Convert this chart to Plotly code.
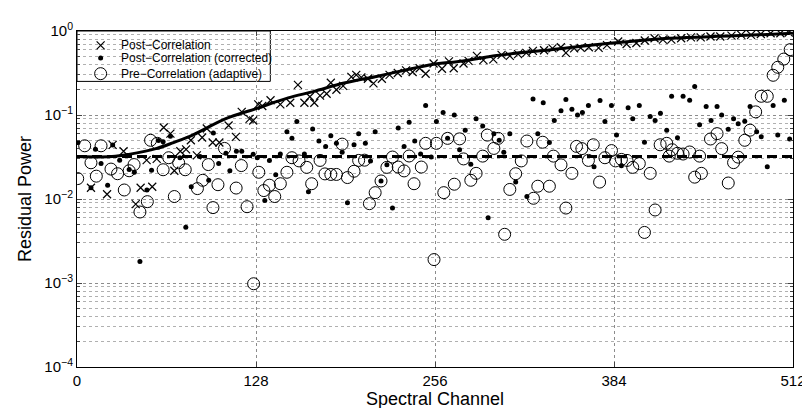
import plotly.graph_objects as go

# Post-Correlation (x markers)
post_ch = [10, 21.5, 25.5, 33.3, 42, 45.5, 49.8, 53.8, 57, 62, 66.8, 69.6, 73.9, 78, 81.4, 85.7,
           89.5, 92.8, 97, 101.8, 108.4, 113.6, 117.8, 123.4, 126, 129.6, 132.5, 138.4, 145.4,
           152.5, 158, 162.6, 166.5, 169.7, 173.8, 178.5, 181.5, 185.5, 190.3, 196.2, 199.7,
           203.3, 208, 212, 218, 223.5, 229.4, 235.3, 240, 245, 249.3, 255, 261, 266, 269.4,
           276.4, 280, 286, 290.6, 297.7, 303.6, 309.5, 315.4, 321.3, 326, 334, 340, 346, 349.6,
           355.5, 360.2, 366, 373, 379, 387, 393, 400, 406, 413, 419, 425, 432, 439, 446, 453,
           460, 468, 475, 482, 489, 496, 503, 509]
post_val = [0.0136, 0.0114, 0.044, 0.037, 0.0087, 0.0136, 0.029, 0.014, 0.030, 0.071, 0.060,
            0.0217, 0.037, 0.039, 0.050, 0.033, 0.054, 0.069, 0.047, 0.047, 0.075, 0.055, 0.109,
            0.090, 0.086, 0.134, 0.128, 0.15, 0.134, 0.14, 0.228, 0.14, 0.165, 0.14, 0.17, 0.179,
            0.242, 0.20, 0.222, 0.284, 0.30, 0.28, 0.27, 0.238, 0.27, 0.30, 0.316, 0.34, 0.325,
            0.36, 0.31, 0.41, 0.355, 0.435, 0.36, 0.41, 0.44, 0.505, 0.45, 0.46, 0.52, 0.505,
            0.53, 0.55, 0.58, 0.59, 0.62, 0.64, 0.55, 0.62, 0.63, 0.64, 0.63, 0.68, 0.75, 0.70,
            0.72, 0.77, 0.82, 0.79, 0.79, 0.82, 0.84, 0.84, 0.86, 0.86, 0.88, 0.90, 0.90, 0.92,
            0.94, 0.94, 0.96]

# Post-Correlation (corrected) (dots)
corr_ch = [0.7, 10, 13.2, 17.2, 21.9, 25.5, 30.5, 37.3, 41, 45, 50, 53.3, 58.3, 61.6, 66.8,
           73.6, 77.8, 81.7, 88, 94.2, 97.5, 101.3, 106.5, 109.3, 114, 117.8, 126, 128.9,
           134.3, 137.6, 142.1, 145.4, 150.1, 153.7, 157.2, 162.6, 165.5, 168.5, 173, 177.8,
           181.5, 185.5, 189.6, 193.4, 198.1, 201.4, 206.2, 209.9, 213.2, 217.4, 221.6, 225.6,
           229.7, 233.9, 237.5, 241.5, 245.7, 249.3, 253.3, 257, 261.8, 265, 269.8, 273.6,
           277.6, 281.6, 285.4, 290.1, 294, 298.1, 301.9, 305.2, 309.5, 313.7, 321.7, 326.1,
           329.5, 333.4, 337.8, 341.3, 346.1, 349.6, 353.9, 357.9, 361.4, 365.7, 369.7, 374,
           377.5, 382.2, 385.8, 389.3, 394.1, 397.4, 402.1, 405.8, 409.9, 413.4, 417.2, 421.7,
           425.2, 429.4, 433.4, 438.1, 441.7, 445.2, 449.9, 453.4, 457.7, 461, 465.7, 469.5,
           472.8, 477.5, 481.3, 486, 489.3, 493.6, 497.8, 501.1, 505.8, 509.6]
corr_val = [0.047, 0.0136, 0.039, 0.0265, 0.0146, 0.044, 0.029, 0.0225, 0.0208, 0.0018, 0.0128,
            0.022, 0.0496, 0.048, 0.056, 0.031, 0.0046, 0.014, 0.032, 0.0167, 0.061, 0.0264,
            0.035, 0.0217, 0.037, 0.037, 0.034, 0.031, 0.0096, 0.0288, 0.0195, 0.0344, 0.063,
            0.0527, 0.0836, 0.0344, 0.0122, 0.068, 0.049, 0.0423, 0.0566, 0.046, 0.036, 0.0090,
            0.0442, 0.060, 0.046, 0.0284, 0.063, 0.0164, 0.0255, 0.0078, 0.070, 0.0423, 0.082,
            0.049, 0.0344, 0.13, 0.0316, 0.0836, 0.107, 0.0527, 0.10, 0.0386, 0.0658, 0.026,
            0.090, 0.074, 0.006, 0.060, 0.050, 0.036, 0.060, 0.0159, 0.0107, 0.155, 0.060, 0.14,
            0.047, 0.086, 0.112, 0.153, 0.117, 0.10, 0.107, 0.13, 0.0242, 0.149, 0.0836, 0.13,
            0.0576, 0.0248, 0.122, 0.090, 0.13, 0.0474, 0.096, 0.086, 0.105, 0.066, 0.167,
            0.0537, 0.167, 0.15, 0.218, 0.0765, 0.126, 0.086, 0.126, 0.10, 0.0676, 0.090,
            0.0785, 0.084, 0.126, 0.063, 0.055, 0.0242, 0.13, 0.0576, 0.15, 0.0518]

# Pre-Correlation (adaptive) (open circles)
pre_ch = [0.5, 5.5, 10, 13.8, 17.2, 24.3, 29, 33.8, 37.3, 40.8, 45, 50.3, 52.6, 57.4, 61.6,
          65.6, 69.6, 72.7, 77.4, 86.1, 89.9, 93.9, 97.2, 100.8, 105.5, 113.8, 117.5, 121.6,
          126.3, 130, 133.6, 137.6, 141.4, 145.4, 150.1, 153.7, 158.8, 164.3, 167.8, 173.8,
          177.3, 181.5, 185.5, 189.6, 193.4, 198.1, 201.4, 205.6, 209.1, 213.2, 217.4, 221.6,
          225.6, 229.7, 233.9, 237.5, 241, 246.2, 249.3, 255.3, 257, 262.3, 265, 269.8, 273.6,
          276.4, 281.6, 285.4, 290.1, 293.4, 298.1, 301.2, 305.8, 309.5, 313.7, 317.7, 321.7,
          326.4, 329.5, 333, 337.8, 340.7, 346.1, 349.6, 353.9, 357.2, 361, 365.7, 369.2,
          373.7, 377.5, 382.2, 385.1, 389.3, 393.3, 397.4, 402.1, 405.8, 409.9, 413.4, 417,
          421.7, 423.5, 425.6, 429.4, 433.4, 438.1, 441.7, 445.2, 446.5, 453, 457.7, 461,
          465.7, 469.5, 472.8, 477.5, 481.3, 485.3, 489.3, 493.6, 497.8, 501.1, 505.4, 510]
pre_val = [0.0175, 0.043, 0.027, 0.0187, 0.043, 0.0227, 0.020, 0.0128, 0.0217, 0.0257, 0.0070,
           0.0093, 0.050, 0.046, 0.0223, 0.031, 0.0107, 0.027, 0.0223, 0.0133, 0.0167, 0.0257,
           0.0079, 0.0148, 0.040, 0.0135, 0.025, 0.0081, 0.00098, 0.0208, 0.0126, 0.0146,
           0.0107, 0.0152, 0.0208, 0.031, 0.0284, 0.0238, 0.0152, 0.0288, 0.0199, 0.0196,
           0.0196, 0.045, 0.018, 0.0214, 0.0288, 0.029, 0.0088, 0.0119, 0.0164, 0.0238, 0.0316,
           0.024, 0.0216, 0.0325, 0.0152, 0.024, 0.046, 0.0019, 0.046, 0.0119, 0.0527, 0.015,
           0.052, 0.030, 0.0167, 0.0202, 0.0324, 0.0576, 0.040, 0.0527, 0.0038, 0.013, 0.020,
           0.0284, 0.049, 0.0102, 0.0142, 0.0474, 0.0142, 0.0324, 0.0255, 0.0078, 0.0202,
           0.0423, 0.0398, 0.0288, 0.0442, 0.0159, 0.031, 0.0377, 0.0284, 0.0296, 0.0288,
           0.0238, 0.0264, 0.004, 0.0202, 0.0074, 0.0442, 0.046, 0.0324, 0.0386, 0.035, 0.0343,
           0.0363, 0.0182, 0.0324, 0.0202, 0.0518, 0.060, 0.0398, 0.0155, 0.0271, 0.0315,
           0.050, 0.066, 0.109, 0.167, 0.167, 0.297, 0.37, 0.463, 0.60]

# solid trend curve and dashed reference level
curve_ch = [0, 25, 37, 57, 69, 83, 106, 128, 151, 169, 191, 215, 239, 254, 276, 300, 339,
            383, 424, 470, 512]
curve_val = [0.032, 0.032, 0.034, 0.040, 0.047, 0.058, 0.09, 0.119, 0.16, 0.19, 0.24, 0.29,
             0.355, 0.40, 0.44, 0.51, 0.60, 0.72, 0.82, 0.875, 0.94]
ref_ch = [0, 512]
ref_val = [0.032, 0.032]

x_ticks = [0, 128, 256, 384, 512]
y_ticks = [1e-4, 1e-3, 1e-2, 1e-1, 1]
y_labels = ['10<sup>\u22124</sup>', '10<sup>\u22123</sup>', '10<sup>\u22122</sup>',
            '10<sup>\u22121</sup>', '10<sup>0</sup>']
y_minor = [m * 10 ** e for e in range(-4, 0) for m in range(2, 10)]

legend_names = ['Post\u2212Correlation', 'Post\u2212Correlation (corrected)',
                'Pre\u2212Correlation (adaptive)']

x_style = dict(symbol='x-thin', size=8, color='black', line=dict(color='black', width=1.2))
dot_style = dict(symbol='circle', size=5, color='black')
ring_style = dict(symbol='circle-open', size=12, color='black', line=dict(color='black', width=1))

fig = go.Figure()

fig.add_trace(go.Scatter(x=curve_ch, y=curve_val, mode='lines', line_shape='spline',
                         line=dict(color='black', width=3), showlegend=False))
fig.add_trace(go.Scatter(x=ref_ch, y=ref_val, mode='lines',
                         line=dict(color='black', width=3, dash='10px,5px'), showlegend=False))

fig.add_trace(go.Scatter(x=post_ch, y=post_val, mode='markers', name=legend_names[0],
                         marker=x_style, showlegend=False))
fig.add_trace(go.Scatter(x=corr_ch, y=corr_val, mode='markers', name=legend_names[1],
                         marker=dot_style, showlegend=False))
fig.add_trace(go.Scatter(x=pre_ch, y=pre_val, mode='markers', name=legend_names[2],
                         marker=ring_style, showlegend=False))

# MATLAB-style legend box drawn in the top-left corner of the axes
leg_rows = [0.957, 0.92, 0.873]
for name, style, ry in zip(legend_names, [x_style, dot_style, ring_style], leg_rows):
    fig.add_trace(go.Scatter(x=[0.033], y=[ry], mode='markers', marker=style,
                             xaxis='x2', yaxis='y2', showlegend=False, hoverinfo='skip'))
    fig.add_annotation(x=0.058, y=ry, xref='paper', yref='paper', text=name,
                       showarrow=False, xanchor='left', yanchor='middle',
                       font=dict(size=12, color='black'))
fig.add_shape(type='rect', xref='paper', yref='paper', x0=0, x1=0.27, y0=0.85, y1=1,
              fillcolor='white', line=dict(color='black', width=1), layer='between')

grid = dict(showgrid=True, gridcolor='#8c8c8c', griddash='dot', gridwidth=1)

fig.update_layout(
    width=810, height=408,
    margin=dict(l=69, r=18, t=21, b=41),
    plot_bgcolor='white', paper_bgcolor='white',
    font=dict(family='Liberation Sans, Arial, sans-serif', size=15, color='black'),
    showlegend=False,
    xaxis=dict(range=[0, 512], tickmode='array', tickvals=x_ticks,
               ticks='inside', ticklen=5, mirror='ticks', showline=True,
               linecolor='black', linewidth=1, zeroline=False,
               title=dict(text='Spectral Channel', standoff=2), **grid),
    yaxis=dict(type='log', range=[-4, 0], tickmode='array', tickvals=y_ticks,
               ticktext=y_labels, ticks='inside', ticklen=5, mirror='ticks',
               showline=True, linecolor='black', linewidth=1, zeroline=False,
               title=dict(text='Residual Power', standoff=8),
               minor=dict(tickmode='array', tickvals=y_minor, ticks='inside', ticklen=3,
                          showgrid=True, gridcolor='#b0b0b0', griddash='dot', gridwidth=1),
               **grid),
    xaxis2=dict(overlaying='x', anchor='y2', range=[0, 1], visible=False),
    yaxis2=dict(overlaying='y', anchor='x2', range=[0, 1], visible=False),
)

fig.write_html("out.html")
